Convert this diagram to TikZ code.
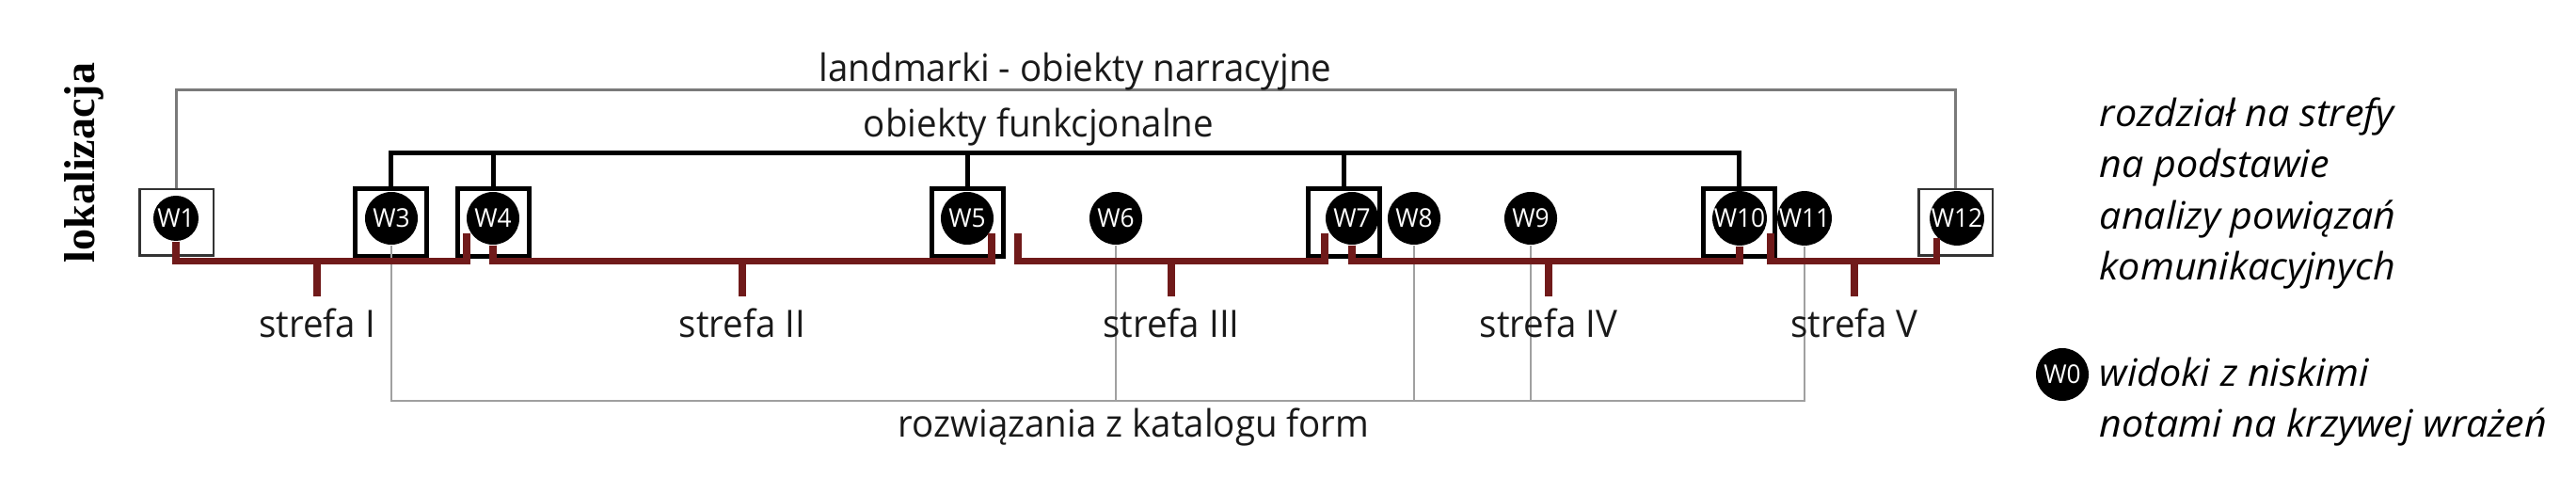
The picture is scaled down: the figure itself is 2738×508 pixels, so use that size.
\documentclass[tikz,border=0pt]{standalone}
\usepackage{fontspec}
\setmainfont{Open Sans}[FakeStretch=0.96]
\newfontfamily\notefont{Open Sans}[FakeStretch=1.03]
\newfontfamily\locfont{Liberation Serif}
\usepackage{tikz}
\usetikzlibrary{positioning,calc}
\definecolor{zonered}{HTML}{701A1A}
\definecolor{lmgray}{HTML}{7A7A7A}
\definecolor{katgray}{HTML}{A0A0A0}

\begin{document}
\begin{tikzpicture}[
    x=0.1mm, y=-0.1mm,
    font=\fontsize{11.4pt}{15.5pt}\selectfont,
    view/.style={circle, fill=black, minimum size=5.6mm, inner sep=0pt,
                 text=white, font=\fontsize{7.8pt}{7.8pt}\selectfont},
    lmbox/.style={draw=black!80, line width=0.25mm, minimum width=7.85mm, minimum height=7.05mm},
    fnbox/.style={draw=black, line width=0.5mm, minimum width=7.6mm, minimum height=7.2mm},
    lmline/.style={draw=lmgray, line width=0.3mm},
    fnline/.style={draw=black, line width=0.5mm},
    katline/.style={draw=katgray, line width=0.15mm},
    zone/.style={draw=zonered, line width=0.75mm},
    lbl/.style={inner sep=0pt, text=black!90},
    note/.style={inner sep=0pt, align=left, font=\notefont\itshape\fontsize{11.4pt}{15.5pt}\selectfont}
]
\useasboundingbox (0,0) rectangle (2738,508);

\coordinate (lm) at (0,96);
\coordinate (fn) at (0,162.5);
\coordinate (bar) at (0,277.5);
\coordinate (kat) at (0,426);

\node[lmbox] (b1) at (187.5,236.5) {};
\node[fnbox] (b3) at (415.5,236.5) {};
\node[fnbox] (b4) at (524,236.5) {};
\node[fnbox] (b5) at (1028.5,236.5) {};
\node[fnbox] (b7) at (1428.5,236.5) {};
\node[fnbox] (b10) at (1848.5,236.5) {};
\node[lmbox] (b12) at (2078.5,236.5) {};

\node[view, minimum size=4.8mm] (w1) at (187,232) {W1};
\node[view] (w3) at (416,232) {W3};
\node[view] (w4) at (524,232) {W4};
\node[view] (w5) at (1028,232) {W5};
\node[view] (w6) at (1186,232) {W6};
\node[view] (w7) at (1437,232) {W7};
\node[view] (w8) at (1503,232) {W8};
\node[view] (w9) at (1627,232) {W9};
\node[view] (w10) at (1849,232) {W10};
\node[view] (w11) at (1918,232) {W11};
\node[view] (w12) at (2080,232) {W12};

\draw[katline] (w3.south) |- (w11.south |- kat) -- (w11.south);
\foreach \w in {w6,w8,w9}
    \draw[katline] (\w.south) -- (\w.south |- kat);

\draw[lmline] (b1.north) |- (b12.north |- lm) -- (b12.north);
\draw[fnline] (b3.north) |- (b10.north |- fn) -- (b10.north);
\foreach \b in {b4,b5,b7}
    \draw[fnline] (\b.north) -- (\b.north |- fn);

\coordinate (z1e) at (496,248);
\coordinate (z2e) at (1054,248);
\coordinate (z3s) at (1082,248);
\coordinate (z3e) at (1408,248);
\coordinate (z5s) at (1882,248);
\draw[zone] (w1.south) |- (z1e |- bar) -- (z1e);
\draw[zone] (w4.south) |- (z2e |- bar) -- (z2e);
\draw[zone] (z3s) |- (z3e |- bar) -- (z3e);
\draw[zone] (w7.south) |- (w10.south |- bar) -- (w10.south);
\draw[zone] (z5s) |- (w12.224 |- bar) -- (w12.224);

\coordinate (t1) at (337,315);
\coordinate (t2) at (789,315);
\coordinate (t3) at (1245,315);
\coordinate (t4) at (1646,315);
\coordinate (t5) at (1971,315);
\foreach \t in {t1,t2,t3,t4,t5}
    \draw[zone] (\t |- bar) -- (\t);

\node[lbl, below=1.2mm of t1] (s1) {strefa I};
\node[lbl, below=1.2mm of t2] (s2) {strefa II};
\node[lbl, below=1.2mm of t3] (s3) {strefa III};
\node[lbl, below=1.2mm of t4] (s4) {strefa IV};
\node[lbl, below=1.2mm of t5] (s5) {strefa V};

\node[lbl, anchor=base] (lmtxt) at (1143,87) {landmarki - obiekty narracyjne};
\node[lbl, anchor=base] (fntxt) at (1104,146) {obiekty funkcjonalne};
\node[lbl, anchor=base] (kattxt) at (1205,464) {rozwiązania z katalogu form};

\node[rotate=90, inner sep=0pt, font=\locfont\bfseries\fontsize{13.1pt}{13.1pt}\selectfont]
    (loc) at (89,173) {lokalizacja};

\node[note, anchor=north west] (leg1) at (2231,103)
    {rozdział na strefy\\na podstawie\\analizy powiązań\\komunikacyjnych};
\node[view] (w0) at (2192,398) {W0};
\node[note, anchor=north west] (leg2) at (2231,379)
    {widoki z niskimi\\notami na krzywej wrażeń};
\end{tikzpicture}
\end{document}
